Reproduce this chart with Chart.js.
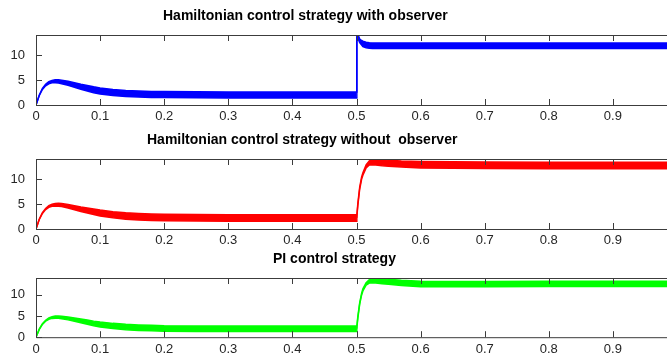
<!DOCTYPE html>
<html>
<head>
<meta charset="utf-8">
<script src="https://cdn.jsdelivr.net/npm/chart.js@4/dist/chart.umd.min.js"></script>
<style>
  html, body { margin: 0; padding: 0; background: #fff; overflow: hidden; }
  canvas { position: absolute; left: 0; }
</style>
</head>
<body>
<canvas id="p1" width="677" height="124" style="top:0px"></canvas>
<canvas id="p2" width="677" height="124" style="top:124px"></canvas>
<canvas id="p3" width="677" height="113" style="top:243px"></canvas>
<script>
// sample times (s)
const t = [0, 0.005, 0.01, 0.015, 0.02, 0.025, 0.03, 0.035, 0.04, 0.05,
  0.06, 0.07, 0.08, 0.09, 0.1, 0.12, 0.14, 0.16, 0.18, 0.2,
  0.25, 0.3, 0.35, 0.4, 0.45, 0.4995, 0.5005, 0.502, 0.505, 0.508,
  0.51, 0.515, 0.52, 0.525, 0.53, 0.54, 0.55, 0.57, 0.6, 0.65,
  0.7, 0.8, 0.9, 1.0];

// ripple envelope (upper / lower) for each strategy
const blueHi = [0, 1.95, 3.3, 4.15, 4.65, 4.93, 5.05, 5.04, 4.97, 4.75,
  4.45, 4.15, 3.9, 3.63, 3.4, 3.1, 2.9, 2.8, 2.72, 2.68,
  2.63, 2.6, 2.6, 2.6, 2.6, 2.6, 13.9, 14.2, 13.2, 12.9,
  12.75, 12.55, 12.45, 12.4, 12.4, 12.4, 12.4, 12.4, 12.4, 12.4,
  12.4, 12.4, 12.4, 12.4];
const blueLo = [0, 1.85, 3.1, 3.85, 4.25, 4.43, 4.45, 4.4, 4.27, 3.95,
  3.55, 3.15, 2.8, 2.47, 2.2, 1.9, 1.7, 1.6, 1.52, 1.48,
  1.43, 1.4, 1.4, 1.4, 1.4, 1.4, 13.5, 13.4, 12.5, 12.0,
  11.7, 11.45, 11.35, 11.3, 11.3, 11.3, 11.3, 11.3, 11.3, 11.3,
  11.3, 11.3, 11.3, 11.3];

const redHi = [0, 1.95, 3.28, 4.12, 4.66, 4.95, 5.1, 5.13, 5.08, 4.9,
  4.65, 4.4, 4.2, 4.0, 3.8, 3.47, 3.25, 3.1, 3.0, 2.95,
  2.9, 2.85, 2.85, 2.85, 2.85, 2.85, 2.65, 5.0, 8.4, 10.4,
  11.25, 12.8, 13.6, 13.85, 13.9, 13.85, 13.75, 13.6, 13.5, 13.45,
  13.4, 13.35, 13.35, 13.35];
const redLo = [0, 1.85, 3.12, 3.88, 4.34, 4.55, 4.6, 4.57, 4.48, 4.2,
  3.85, 3.5, 3.2, 2.9, 2.6, 2.23, 1.95, 1.8, 1.7, 1.65,
  1.6, 1.55, 1.55, 1.55, 1.55, 1.55, 2.35, 4.6, 8.0, 10.0,
  10.75, 12.2, 12.8, 12.85, 12.8, 12.65, 12.55, 12.4, 12.2, 12.15,
  12.1, 12.05, 12.05, 12.05];

const greenHi = [0, 1.9, 3.18, 4.02, 4.56, 4.85, 5.0, 5.03, 4.98, 4.8,
  4.55, 4.3, 4.05, 3.8, 3.6, 3.27, 3.05, 2.9, 2.8, 2.7,
  2.65, 2.65, 2.65, 2.65, 2.65, 2.65, 2.45, 4.8, 8.2, 10.4,
  11.45, 12.9, 13.6, 13.85, 13.9, 13.85, 13.7, 13.45, 13.25, 13.2,
  13.2, 13.25, 13.25, 13.25];
const greenLo = [0, 1.8, 3.02, 3.78, 4.24, 4.45, 4.5, 4.47, 4.38, 4.1,
  3.75, 3.4, 3.05, 2.7, 2.4, 2.03, 1.75, 1.6, 1.5, 1.4,
  1.35, 1.35, 1.35, 1.35, 1.35, 1.35, 2.15, 4.4, 7.8, 10.0,
  10.95, 12.3, 12.8, 12.85, 12.8, 12.65, 12.5, 12.25, 11.95, 11.95,
  11.95, 12.0, 12.0, 12.0];

const titles = [
  'Hamiltonian control strategy with observer',
  'Hamiltonian control strategy without  observer',
  'PI control strategy'
];
const xTicks = [0, 0.1, 0.2, 0.3, 0.4, 0.5, 0.6, 0.7, 0.8, 0.9];
const xTickLabels = ['0', '0.1', '0.2', '0.3', '0.4', '0.5', '0.6', '0.7', '0.8', '0.9'];
const yTicks = [0, 5, 10];
const yTickLabels = ['0', '5', '10'];

const axisColor = '#262626';
const frameColor = '#3c3c3c';
const tickFont = { family: 'Liberation Sans, Arial, sans-serif', size: 13 };

function makePanel(id, hi, lo, color, title, titleLeft, xAxisH) {
  // box frame, inward tick marks and the panel title
  const frame = {
    id: 'frame_' + id,
    afterDraw(chart) {
      const ctx = chart.ctx;
      const { left, top, right, bottom } = chart.chartArea;
      const xs = chart.scales.x, ys = chart.scales.y;
      ctx.save();
      ctx.strokeStyle = frameColor;
      ctx.lineWidth = 1;
      ctx.beginPath();
      ctx.rect(left + 0.5, top + 0.5, right - left, bottom - top);
      xTicks.forEach(v => {
        const px = Math.round(xs.getPixelForValue(v)) + 0.5;
        ctx.moveTo(px, bottom); ctx.lineTo(px, bottom - 6);
        ctx.moveTo(px, top); ctx.lineTo(px, top + 6);
      });
      yTicks.forEach(v => {
        const py = Math.round(ys.getPixelForValue(v)) + 0.5;
        ctx.moveTo(left, py); ctx.lineTo(left + 6, py);
      });
      ctx.stroke();

      ctx.fillStyle = '#000';
      ctx.font = 'bold 14px "Liberation Sans", Arial, sans-serif';
      ctx.textAlign = 'left';
      ctx.textBaseline = 'middle';
      ctx.fillText(title, titleLeft, 16);
      ctx.restore();
    }
  };

  return new Chart(document.getElementById(id), {
    type: 'line',
    data: {
      datasets: [
        {
          data: t.map((v, i) => ({ x: v, y: hi[i] })),
          borderColor: color,
          backgroundColor: color,
          borderWidth: 1.5,
          pointRadius: 0,
          fill: '+1'
        },
        {
          data: t.map((v, i) => ({ x: v, y: lo[i] })),
          borderColor: color,
          backgroundColor: color,
          borderWidth: 1.5,
          pointRadius: 0,
          fill: false
        }
      ]
    },
    options: {
      responsive: false,
      animation: false,
      devicePixelRatio: 1,
      layout: { padding: { top: 35, left: 0, right: 0, bottom: 0 } },
      plugins: { legend: { display: false }, tooltip: { enabled: false } },
      scales: {
        x: {
          type: 'linear', min: 0, max: 1,
          afterBuildTicks: s => { s.ticks = xTicks.map(v => ({ value: v })); },
          afterFit: s => { s.height = xAxisH; },
          grid: { display: false, drawTicks: false },
          border: { display: false },
          ticks: {
            autoSkip: false, maxRotation: 0, padding: 4,
            color: axisColor, font: tickFont,
            callback: (v, i) => xTickLabels[i]
          }
        },
        y: {
          type: 'linear', min: 0, max: 14,
          afterBuildTicks: s => { s.ticks = yTicks.map(v => ({ value: v })); },
          afterFit: s => { s.width = 36; },
          grid: { display: false, drawTicks: false },
          border: { display: false },
          ticks: {
            padding: 11, color: axisColor, font: tickFont,
            callback: (v, i) => yTickLabels[i]
          }
        }
      }
    },
    plugins: [frame]
  });
}

makePanel('p1', blueHi, blueLo, '#0000ff', titles[0], 163, 19);
makePanel('p2', redHi, redLo, '#ff0000', titles[1], 147, 19);
makePanel('p3', greenHi, greenLo, '#00ff00', titles[2], 273, 18);
</script>
</body>
</html>
